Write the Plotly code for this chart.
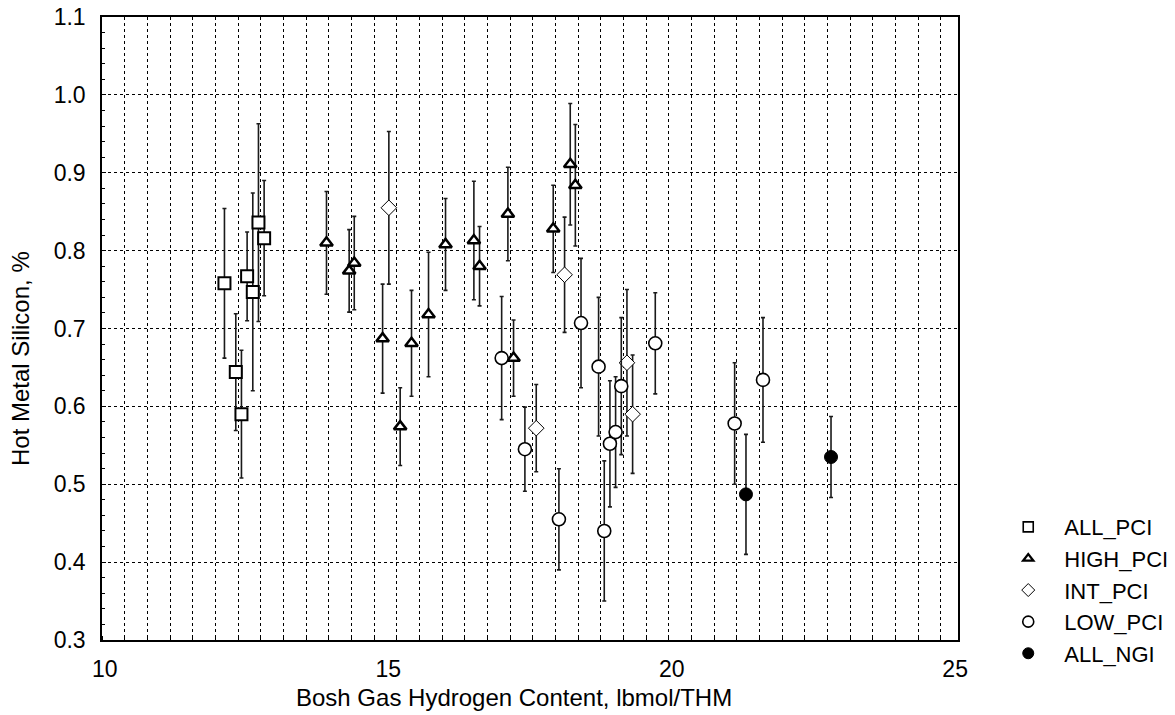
import plotly.graph_objects as go

# ---- data ----
all_pci_x = [12.11, 12.31, 12.41, 12.51, 12.61, 12.71, 12.81]
all_pci_y = [0.758, 0.644, 0.590, 0.767, 0.747, 0.836, 0.816]
all_pci_e = [0.096, 0.075, 0.082, 0.057, 0.127, 0.127, 0.074]

high_pci_x = [13.91, 14.31, 14.40, 14.90, 15.21, 15.41, 15.71, 16.01, 16.51, 16.61, 17.11, 17.21, 17.91, 18.21, 18.30]
high_pci_y = [0.810, 0.774, 0.784, 0.687, 0.574, 0.681, 0.718, 0.808, 0.813, 0.780, 0.847, 0.662, 0.828, 0.911, 0.884]
high_pci_e = [0.066, 0.053, 0.060, 0.070, 0.050, 0.068, 0.080, 0.059, 0.076, 0.051, 0.060, 0.049, 0.056, 0.078, 0.078]

int_pci_x = [15.01, 17.61, 18.11, 19.21, 19.31]
int_pci_y = [0.855, 0.572, 0.769, 0.656, 0.590]
int_pci_e = [0.098, 0.056, 0.074, 0.094, 0.076]

low_pci_x = [17.00, 17.41, 18.01, 18.40, 18.71, 18.81, 18.91, 19.01, 19.11, 19.71, 21.11, 21.61]
low_pci_y = [0.662, 0.545, 0.455, 0.707, 0.651, 0.440, 0.552, 0.567, 0.626, 0.681, 0.578, 0.634]
low_pci_e = [0.079, 0.054, 0.065, 0.083, 0.089, 0.090, 0.081, 0.071, 0.088, 0.065, 0.078, 0.080]

all_ngi_x = [21.31, 22.81]
all_ngi_y = [0.487, 0.535]
all_ngi_e = [0.077, 0.052]

series_names = ["ALL_PCI", "HIGH_PCI", "INT_PCI", "LOW_PCI", "ALL_NGI"]
x_ticks = [10, 15, 20, 25]
y_ticks = [0.3, 0.4, 0.5, 0.6, 0.7, 0.8, 0.9, 1.0, 1.1]

FONT = "Liberation Sans, Arial, sans-serif"

styles = [
    dict(symbol="square", size=12, color="white", line=dict(color="black", width=2)),
    dict(symbol="triangle-up", size=11, color="white", line=dict(color="black", width=2.5)),
    dict(symbol="diamond", size=12, color="white", line=dict(color="black", width=1)),
    dict(symbol="circle", size=13, color="white", line=dict(color="black", width=1.6)),
    dict(symbol="circle", size=13, color="black", line=dict(color="black", width=1)),
]
legend_styles = [
    dict(symbol="square", size=10, color="white", line=dict(color="black", width=1.6)),
    dict(symbol="triangle-up", size=9, color="white", line=dict(color="black", width=2.2)),
    dict(symbol="diamond", size=10, color="white", line=dict(color="black", width=1)),
    dict(symbol="circle", size=11, color="white", line=dict(color="black", width=1.6)),
    dict(symbol="circle", size=11, color="black", line=dict(color="black", width=1)),
]

data = [
    (all_pci_x, all_pci_y, all_pci_e),
    (high_pci_x, high_pci_y, high_pci_e),
    (int_pci_x, int_pci_y, int_pci_e),
    (low_pci_x, low_pci_y, low_pci_e),
    (all_ngi_x, all_ngi_y, all_ngi_e),
]

fig = go.Figure()
for (xs, ys, es), name, st in zip(data, series_names, styles):
    fig.add_trace(go.Scatter(
        x=xs, y=ys, mode="markers", name=name, showlegend=False,
        marker=st,
        error_y=dict(type="data", array=es, visible=True, color="#1a1a1a",
                     thickness=1.6, width=2),
    ))
for name, st in zip(series_names, legend_styles):
    fig.add_trace(go.Scatter(
        x=[None], y=[None], mode="markers", name=name, marker=st, showlegend=True,
    ))

fig.update_layout(
    width=1175, height=715,
    margin=dict(l=102, r=217, t=17, b=75, autoexpand=False),
    paper_bgcolor="white", plot_bgcolor="white",
    font=dict(family=FONT, size=23, color="black"),
    legend=dict(x=1.040, y=0.215, xanchor="left", yanchor="top",
                font=dict(family=FONT, size=22, color="black"),
                bgcolor="rgba(0,0,0,0)", itemwidth=62),
    xaxis=dict(
        range=[9.95, 25.05], tickvals=x_ticks, ticktext=[str(v) for v in x_ticks],
        showgrid=False, zeroline=False, automargin=False,
        showline=True, linecolor="black", linewidth=1.5, mirror=True,
        ticks="", ticklabelstandoff=8,
        tickfont=dict(family=FONT, size=23, color="black"),
        minor=dict(tick0=9.95, dtick=0.4, showgrid=True, gridcolor="black",
                   griddash="dot", gridwidth=1, ticks="inside", ticklen=4,
                   tickcolor="black"),
    ),
    yaxis=dict(
        range=[0.3, 1.1], tickvals=y_ticks, ticktext=[f"{v:.1f}" for v in y_ticks],
        showgrid=True, gridcolor="black", griddash="dot", gridwidth=1,
        zeroline=False, automargin=False,
        showline=True, linecolor="black", linewidth=1.5, mirror=True,
        ticks="inside", ticklen=4, tickcolor="black", ticklabelstandoff=10,
        tickfont=dict(family=FONT, size=23, color="black"),
        minor=dict(dtick=0.02, ticks="inside", ticklen=3, tickcolor="black",
                   showgrid=False),
    ),
    annotations=[
        dict(text="Bosh Gas Hydrogen Content, lbmol/THM", xref="paper", yref="paper",
             x=0.481, y=-0.093, xanchor="center", yanchor="middle", showarrow=False,
             font=dict(family=FONT, size=24, color="black")),
        dict(text="Hot Metal Silicon, %", xref="paper", yref="paper",
             x=-0.0958, y=0.4526, xanchor="center", yanchor="middle", textangle=-90,
             showarrow=False, font=dict(family=FONT, size=24, color="black")),
    ],
)

fig.write_html("out.html")
